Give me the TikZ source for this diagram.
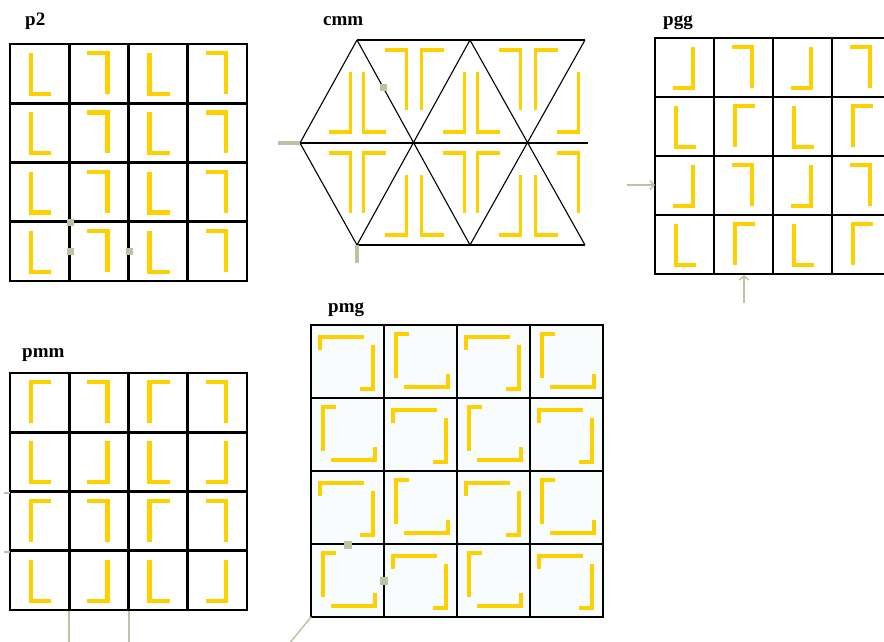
\documentclass[tikz,border=0pt]{standalone}
\usepackage{fontspec}
\setmainfont{Liberation Serif}
\usetikzlibrary{arrows.meta}

\definecolor{motif}{RGB}{255,208,0}
\definecolor{marker}{RGB}{192,192,162}
\definecolor{pmgfill}{RGB}{249,252,252}

% one L-shaped motif in a square cell, flipped by xscale/yscale
% #1,#2 = top left corner, #3 = cell size, #4,#5 = flips
\newcommand{\cellmotif}[5]{%
  \begin{scope}[shift={(#1+#3/2,#2+#3/2)},xscale=#4,yscale=#5]
    \draw[motifline] (-8.6,-20.6) -- (-8.6,20.4) -- (11.4,20.4);
  \end{scope}}

% 4x4 square lattice, #1,#2 = top left corner, #3 = cell size
\newcommand{\squarelattice}[3]{%
  \foreach \i in {0,...,4} {
    \draw[cellline] (#1+\i*#3,#2) -- (#1+\i*#3,#2+4*#3);
    \draw[cellline] (#1,#2+\i*#3) -- (#1+4*#3,#2+\i*#3);
  }}

% the two pmg brackets, #1,#2 = top left corner of a 73 cell
\newcommand{\pmgA}[2]{%
  \draw[motifline, line width=4.8pt] (#1+9,#2+25) -- (#1+9,#2+12) -- (#1+53,#2+12);
  \draw[motifline, line width=4.8pt] (#1+49,#2+64) -- (#1+62,#2+64) -- (#1+62,#2+20);}
\newcommand{\pmgB}[2]{%
  \draw[motifline, line width=4.8pt] (#1+25,#2+9) -- (#1+12,#2+9) -- (#1+12,#2+53);
  \draw[motifline, line width=4.8pt] (#1+64,#2+49) -- (#1+64,#2+62) -- (#1+20,#2+62);}

\begin{document}
\begin{tikzpicture}[
    x=1pt, y=-1pt,
    cellline/.style={draw=black, line width=2.6pt, line cap=rect},
    triline/.style={draw=black, line width=1.1pt},
    motifline/.style={draw=motif, line width=4.4pt, miter limit=4},
    markbox/.style={fill=marker, minimum size=7pt, inner sep=0pt},
    axisline/.style={draw=marker, line width=4pt},
    thinaxis/.style={draw=marker, line width=2pt},
    glide/.style={draw=marker, line width=1.5pt, -{Straight Barb[length=4pt,width=9pt]}},
    title/.style={font=\fontsize{19}{19}\selectfont\bfseries, inner sep=0pt, anchor=base west}
]
  \useasboundingbox (0,0) rectangle (884,642);
  \clip (0,0) rectangle (884,642);

  % Titles
  \node[title] (p2title) at (25,26) {p2};
  \node[title] (cmmtitle) at (323,26) {cmm};
  \node[title] (pggtitle) at (663,26) {pgg};
  \node[title] (pmmtitle) at (22,357) {pmm};
  \node[title] (pmgtitle) at (328,312) {pmg};

  % p2 (top left)
  \foreach \r in {0,...,3}
    \foreach \c in {0,...,3} {
      \pgfmathsetmacro{\sx}{mod(\c,2)==0 ? 1 : -1}
      \cellmotif{10+\c*59.25}{44+\r*59.25}{59.25}{\sx}{\sx}
    }
  \squarelattice{10}{44}{59.25}
  \node[markbox] (p2a) at (70,222) {};
  \node[markbox] (p2b) at (70,251) {};
  \node[markbox] (p2c) at (129,251) {};

  % cmm (top middle)
  \draw[triline] (357,40) -- (585,40);
  \draw[triline] (300,143) -- (588,143);
  \draw[triline] (357,245) -- (585,245);
  \draw[triline] (357,40) -- (300,143) -- (357,245);
  \draw[triline] (357,40) -- (470,245);
  \draw[triline] (470,40) -- (357,245);
  \draw[triline] (470,40) -- (585,245);
  \draw[triline] (585,40) -- (470,245);
  \foreach \k in {0,...,4} {
    \pgfmathsetmacro{\cx}{357+\k*57}
    \ifodd\k
      % 7 and Gamma on top, mirrored pair below
      \draw[motifline, line width=3.8pt] (\cx-29.5,50) -- (\cx-7.5,50) -- (\cx-7.5,110);
      \draw[motifline, line width=3.8pt] (\cx+7.5,110) -- (\cx+7.5,50) -- (\cx+29.5,50);
      \draw[motifline, line width=3.8pt] (\cx-29.5,235) -- (\cx-7.5,235) -- (\cx-7.5,175);
      \draw[motifline, line width=3.8pt] (\cx+7.5,175) -- (\cx+7.5,235) -- (\cx+29.5,235);
    \else
      \draw[motifline, line width=3.8pt] (\cx-28.5,132) -- (\cx-6.5,132) -- (\cx-6.5,72);
      \draw[motifline, line width=3.8pt] (\cx-28.5,153) -- (\cx-6.5,153) -- (\cx-6.5,213);
      \ifnum\k<4
        \draw[motifline, line width=3.8pt] (\cx+6.5,72) -- (\cx+6.5,132) -- (\cx+28.5,132);
        \draw[motifline, line width=3.8pt] (\cx+6.5,213) -- (\cx+6.5,153) -- (\cx+28.5,153);
      \fi
    \fi
  }
  \node[markbox] (cmma) at (383,88) {};
  \draw[axisline] (278,143) -- (300,143);
  \draw[axisline] (357,245) -- (357,263);

  % pgg (top right, cut by the page edge)
  \foreach \r in {0,...,3}
    \foreach \c in {0,...,3} {
      \pgfmathsetmacro{\sx}{mod(\r,2)==0 ? -1 : 1}
      \pgfmathsetmacro{\sy}{mod(\c,2)==0 ? 1 : -1}
      \cellmotif{655+\c*59}{38+\r*59}{59}{\sx}{\sy}
    }
  \squarelattice{655}{38}{59}
  \coordinate (pggleft) at (627,185);
  \coordinate (pggbottom) at (744,303);
  \draw[glide] (pggleft) -- (655,185);
  \draw[glide] (pggbottom) -- (744,275);

  % pmm (bottom left)
  \foreach \r in {0,...,3}
    \foreach \c in {0,...,3} {
      \pgfmathsetmacro{\sx}{mod(\c,2)==0 ? 1 : -1}
      \pgfmathsetmacro{\sy}{mod(\r,2)==0 ? -1 : 1}
      \cellmotif{10+\c*59.25}{373+\r*59.25}{59.25}{\sx}{\sy}
    }
  \squarelattice{10}{373}{59.25}
  \draw[thinaxis] (69,611) -- (69,642);
  \draw[thinaxis] (129,611) -- (129,642);
  \draw[thinaxis, line width=1.2pt] (4,493) -- (10,493);
  \draw[thinaxis, line width=1.2pt] (4,552) -- (10,552);

  % pmg (bottom middle)
  \fill[pmgfill] (311,325) rectangle (603,617);
  \foreach \r in {0,...,3}
    \foreach \c in {0,...,3} {
      \pgfmathtruncatemacro{\parity}{mod(\r+\c,2)}
      \ifnum\parity=0
        \pmgA{311+\c*73}{325+\r*73}
      \else
        \pmgB{311+\c*73}{325+\r*73}
      \fi
    }
  \squarelattice{311}{325}{73}
  \node[markbox, minimum size=8pt] (pmga) at (348,545) {};
  \node[markbox, minimum size=8pt] (pmgb) at (384,581) {};
  \draw[thinaxis, line width=1.5pt] (311,617) -- (289,644);

\end{tikzpicture}
\end{document}
